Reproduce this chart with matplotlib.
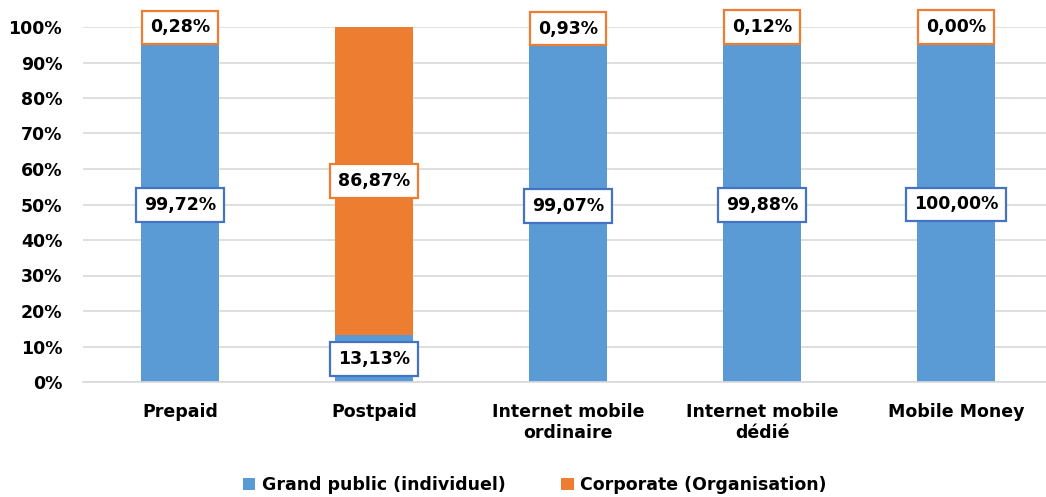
import numpy as np
import matplotlib.pyplot as plt

plt.rcParams['font.family'] = ['DejaVu Sans']
plt.rcParams['font.weight'] = 'bold'

categories = ['Prepaid', 'Postpaid', 'Internet mobile\nordinaire', 'Internet mobile\ndédié', 'Mobile Money']
grand_public = [99.72, 13.13, 99.07, 99.88, 100.00]
corporate = [0.28, 86.87, 0.93, 0.12, 0.00]
series_names = ['Grand public (individuel)', 'Corporate (Organisation)']

blue = '#5B9BD5'
orange = '#ED7D31'
blue_edge = '#4472C4'

fig = plt.figure(figsize=(10.46, 4.97), dpi=100)
ax = fig.add_axes([83 / 1046, 115 / 497, 970 / 1046, 355 / 497])

x = np.arange(len(categories))
width = 0.4
gp = np.array(grand_public)
co = np.array(corporate)

b1 = ax.bar(x, gp, width, color=blue, label=series_names[0], zorder=2)
b2 = ax.bar(x, co, width, bottom=gp, color=orange, label=series_names[1], zorder=2)

def fmt(v):
    return f'{v:.2f}'.replace('.', ',') + '%'

# data labels in white boxes, edge coloured by series
box_kw = dict(ha='center', va='center', fontsize=12.5, fontweight='bold', zorder=5, clip_on=False)
for xi, v in zip(x, gp):
    y = v / 2 if v < 100 else 50
    ax.text(xi, y, fmt(v), **box_kw,
            bbox=dict(boxstyle='square,pad=0.45', fc='white', ec=blue_edge, lw=1.6))
for xi, b, v in zip(x, gp, co):
    ax.text(xi, b + v / 2, fmt(v), **box_kw,
            bbox=dict(boxstyle='square,pad=0.45', fc='white', ec=orange, lw=1.6))

ax.set_xlim(-0.5, len(categories) - 0.5)
ax.set_ylim(0, 100)
ax.set_yticks(np.arange(0, 101, 10))
ax.set_yticklabels([f'{t}%' for t in range(0, 101, 10)])
ax.set_xticks(x)
ax.set_xticklabels(categories)
ax.tick_params(axis='both', length=0, labelsize=12.5)
ax.tick_params(axis='y', pad=15)
ax.tick_params(axis='x', pad=15)
ax.grid(axis='y', color='#D9D9D9', lw=1.2, zorder=0)
for s in ['top', 'right', 'left']:
    ax.spines[s].set_visible(False)
ax.spines['bottom'].set_color('#D9D9D9')
ax.spines['bottom'].set_linewidth(1.2)

fig.legend(handles=[b1, b2], loc='center', bbox_to_anchor=(535 / 1046, 1 - 485 / 497),
           ncol=2, frameon=False, fontsize=12.5, handlelength=0.7, handleheight=0.7,
           handletextpad=0.4, columnspacing=3.2)

fig.savefig('out.png', dpi=100)
